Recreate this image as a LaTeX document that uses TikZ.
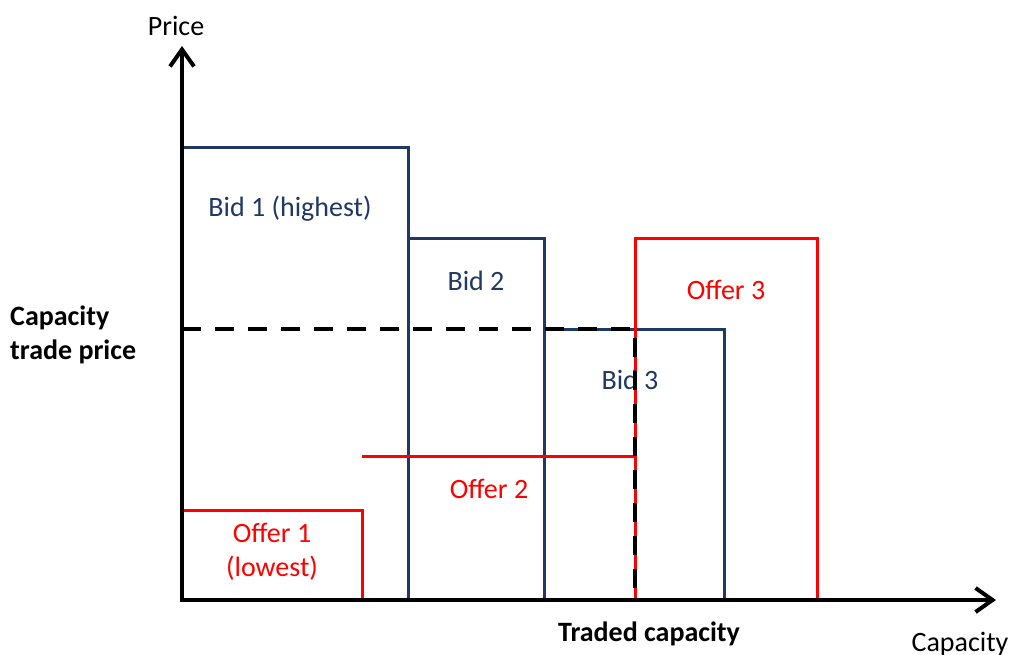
\documentclass[tikz,border=0pt]{standalone}
\usepackage{fontspec}
\setmainfont{Carlito}
\usetikzlibrary{arrows.meta}
\definecolor{bidblue}{HTML}{203864}
\definecolor{offerred}{HTML}{FF0000}
\begin{document}
\begin{tikzpicture}[x=1pt,y=-1pt,
  axis/.style={line width=4pt,-{Straight Barb[length=17pt,width=24pt,line width=4pt]}},
  bidline/.style={draw=bidblue,line width=3pt},
  offerline/.style={draw=offerred,line width=3pt},
  tradeline/.style={draw=black,line width=4pt,dash pattern=on 19pt off 14pt},
  lbl/.style={font=\fontsize{28}{34}\selectfont,inner sep=0pt,anchor=center},
  bidlbl/.style={lbl,text=bidblue},
  offerlbl/.style={lbl,text=offerred},
  boldlbl/.style={lbl,font=\fontsize{28}{34}\selectfont\bfseries}]
\useasboundingbox (0,0) rectangle (1014,655);

% origin of the chart
\coordinate (O) at (182,600);
\coordinate (ytip) at (182,46);
\coordinate (xtip) at (996,600);

% bid steps (descending)
\draw[bidline] (182,148) -- (408,148) -- (408,600);
\draw[bidline] (408,238) -- (544,238) -- (544,600);
\draw[bidline] (544,329) -- (724,329) -- (724,600);

% offer steps (ascending)
\draw[offerline] (182,510) -- (362,510) -- (362,600);
\draw[offerline] (362,456) -- (635,456);
\draw[offerline] (635,600) -- (635,238) -- (817,238) -- (817,600);

% labels inside the steps
\node[bidlbl] (bid1) at (290,209) {Bid 1 (highest)};
\node[bidlbl] (bid2) at (476,281) {Bid 2};
\node[bidlbl] (bid3) at (630,380) {Bid 3};
\node[offerlbl] (off3) at (726,290) {Offer 3};
\node[offerlbl] (off2) at (489,489) {Offer 2};
\node[offerlbl,align=center] (off1) at (272,552) {Offer 1\\(lowest)};

% clearing price and traded capacity
\coordinate (clear) at (635,329);
\coordinate (pricept) at (182,329);
\coordinate (capept) at (635,600);
\draw[tradeline] (pricept) -- (clear) -- (capept);

% axes
\draw[axis] (O) -- (ytip);
\draw[axis] ([xshift=-2pt]O) -- (xtip);

% axis labels
\node[lbl] (ylabel) at (176,26) {Price};
\node[lbl] (xlabel) at (960,644) {Capacity};
\node[boldlbl,anchor=west,align=left] (tprice) at (10,335) {Capacity\\trade price};
\node[boldlbl] (tcap) at (649,634) {Traded capacity};
\end{tikzpicture}
\end{document}
